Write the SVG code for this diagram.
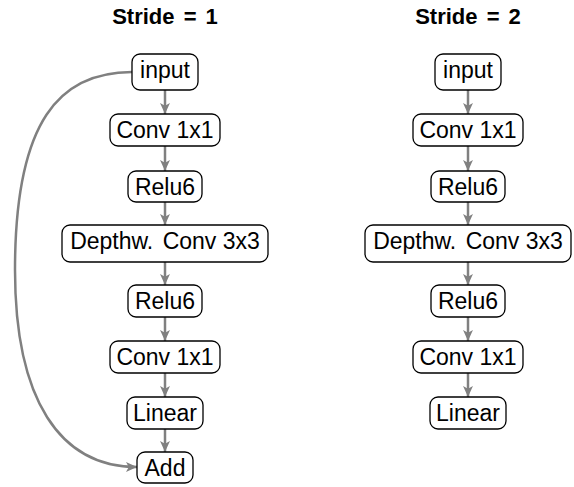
<svg xmlns="http://www.w3.org/2000/svg" width="574" height="487" viewBox="0 0 574 487">
<style>
.box{fill:#fff;stroke:#000;stroke-width:1.3}
.t{font-family:"Liberation Sans",Arial,sans-serif;font-size:23px;text-anchor:middle;fill:#000}
.h{font-family:"Liberation Sans",Arial,sans-serif;font-size:22px;font-weight:bold;text-anchor:middle;fill:#000;word-spacing:3px}
.c{fill:none;stroke:#808080;stroke-width:2.5}
</style>
<defs>
<marker id="ah" markerWidth="11" markerHeight="11" viewBox="0 0 10 10" refX="10" refY="5" orient="auto" markerUnits="userSpaceOnUse">
<path d="M0,0.5 L10,5 L0,9.5 L2.5,5 z" fill="#808080"/>
</marker>
</defs>
<text class="h" x="165" y="24">Stride = 1</text>
<text class="h" x="468" y="24">Stride = 2</text>
<g id="connectors">
<path class="c" marker-end="url(#ah)" d="M165,90 V114"/>
<path class="c" marker-end="url(#ah)" d="M165,146 V171"/>
<path class="c" marker-end="url(#ah)" d="M165,202 V225"/>
<path class="c" marker-end="url(#ah)" d="M165,262 V285"/>
<path class="c" marker-end="url(#ah)" d="M165,317 V341"/>
<path class="c" marker-end="url(#ah)" d="M165,373 V397"/>
<path class="c" marker-end="url(#ah)" d="M165,429 V452"/>
<path class="c" marker-end="url(#ah)" d="M132,72 C60,72 15,120 15,270 C15,400 60,467 137,467"/>
<path class="c" marker-end="url(#ah)" d="M468,90 V114"/>
<path class="c" marker-end="url(#ah)" d="M468,146 V171"/>
<path class="c" marker-end="url(#ah)" d="M468,202 V225"/>
<path class="c" marker-end="url(#ah)" d="M468,262 V285"/>
<path class="c" marker-end="url(#ah)" d="M468,317 V341"/>
<path class="c" marker-end="url(#ah)" d="M468,373 V397"/>
</g>
<g id="l-input"><rect class="box" x="132" y="54" width="66" height="36" rx="8"/><text class="t" x="165" y="78">input</text></g>
<g id="l-conv1"><rect class="box" x="110" y="114" width="110" height="32" rx="8"/><text class="t" x="165" y="138">Conv 1x1</text></g>
<g id="l-relu1"><rect class="box" x="128" y="171" width="74" height="31" rx="8"/><text class="t" x="165" y="195">Relu6</text></g>
<g id="l-dw"><rect class="box" x="62" y="225" width="206" height="37" rx="8"/><text class="t" x="165" y="249">Depthw. <tspan dx="3">Conv 3x3</tspan></text></g>
<g id="l-relu2"><rect class="box" x="128" y="285" width="74" height="32" rx="8"/><text class="t" x="165" y="309">Relu6</text></g>
<g id="l-conv2"><rect class="box" x="110" y="341" width="110" height="32" rx="8"/><text class="t" x="165" y="365">Conv 1x1</text></g>
<g id="l-linear"><rect class="box" x="127" y="397" width="76" height="32" rx="8"/><text class="t" x="165" y="421">Linear</text></g>
<g id="l-add"><rect class="box" x="137" y="452" width="56" height="31" rx="8"/><text class="t" x="165" y="476">Add</text></g>
<g id="r-input"><rect class="box" x="435" y="54" width="66" height="36" rx="8"/><text class="t" x="468" y="78">input</text></g>
<g id="r-conv1"><rect class="box" x="413" y="114" width="110" height="32" rx="8"/><text class="t" x="468" y="138">Conv 1x1</text></g>
<g id="r-relu1"><rect class="box" x="431" y="171" width="74" height="31" rx="8"/><text class="t" x="468" y="195">Relu6</text></g>
<g id="r-dw"><rect class="box" x="365" y="225" width="206" height="37" rx="8"/><text class="t" x="468" y="249">Depthw. <tspan dx="3">Conv 3x3</tspan></text></g>
<g id="r-relu2"><rect class="box" x="431" y="285" width="74" height="32" rx="8"/><text class="t" x="468" y="309">Relu6</text></g>
<g id="r-conv2"><rect class="box" x="413" y="341" width="110" height="32" rx="8"/><text class="t" x="468" y="365">Conv 1x1</text></g>
<g id="r-linear"><rect class="box" x="430" y="397" width="76" height="32" rx="8"/><text class="t" x="468" y="421">Linear</text></g>
</svg>
